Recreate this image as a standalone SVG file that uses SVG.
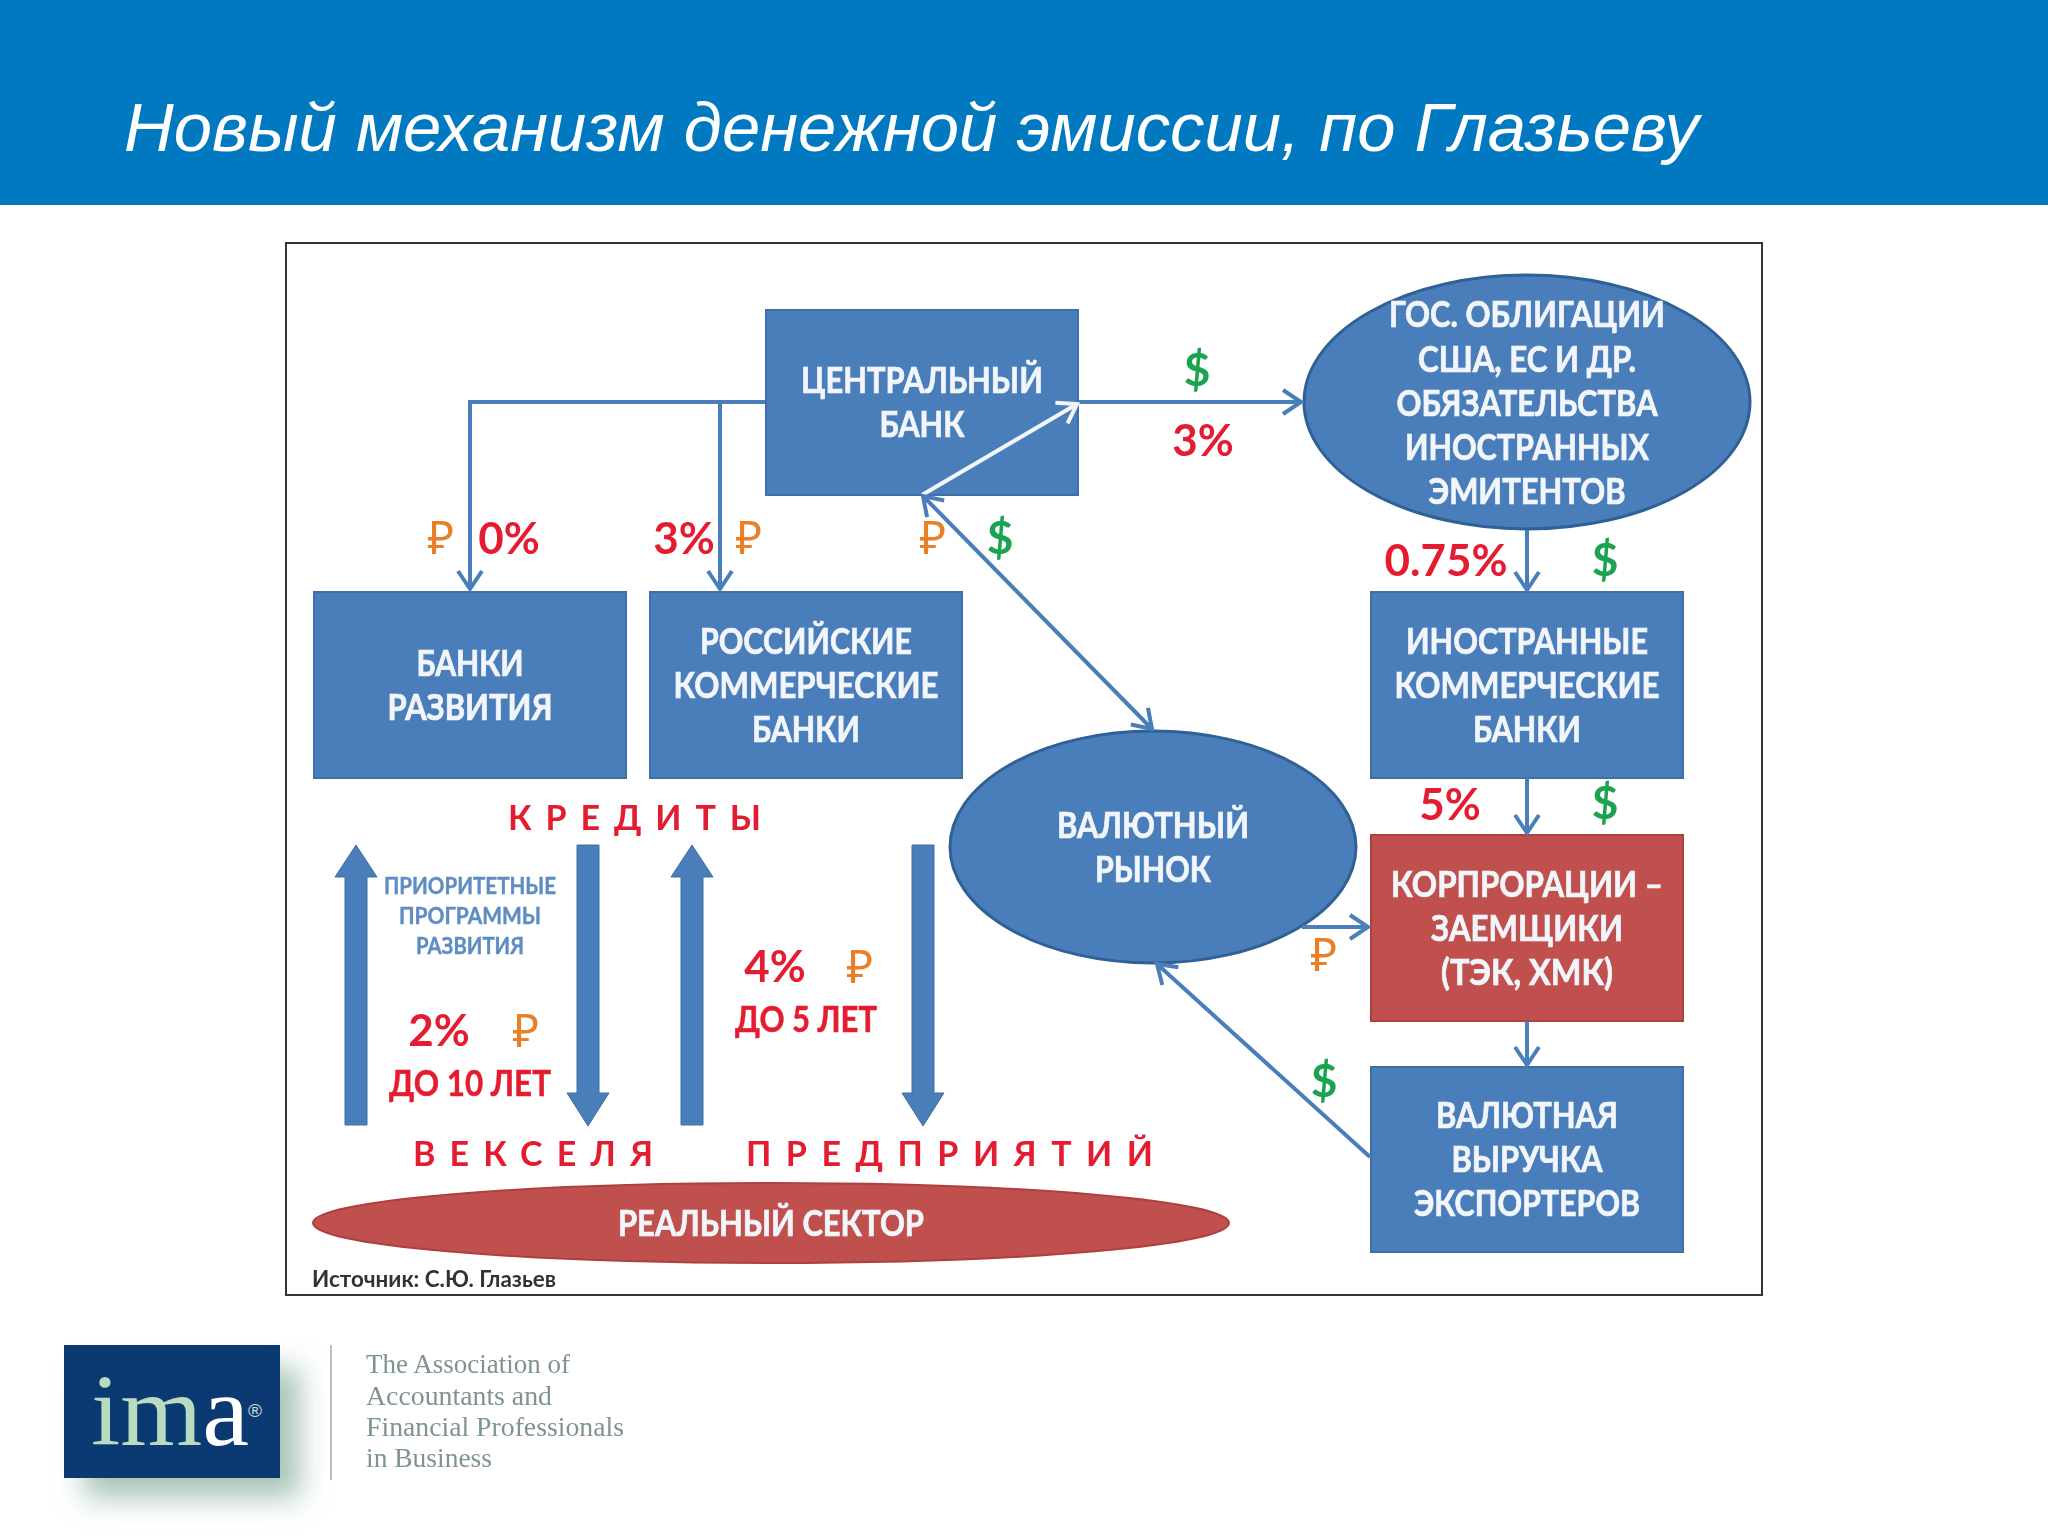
<svg xmlns="http://www.w3.org/2000/svg" width="2048" height="1536" viewBox="0 0 2048 1536">
<style>
.box{fill:#4a7ebb;stroke:#3f6fa6;stroke-width:2}
.ell{fill:#4a7ebb;stroke:#2f6096;stroke-width:3}
.red{fill:#c0504d;stroke:#ae403d;stroke-width:2}
.t{font-family:Lato,"Noto Sans",sans-serif;font-weight:700;font-size:36px;fill:#f2f6fb;stroke:#f2f6fb;stroke-width:.7px;text-anchor:middle;filter:url(#soft)}
.p{font-family:Lato,"Noto Sans",sans-serif;font-weight:700;font-size:44px;fill:#e41e30;text-anchor:middle;filter:url(#soft)}
.r{font-family:"Noto Sans","DejaVu Sans",sans-serif;font-weight:400;font-size:46px;fill:#e8802a;text-anchor:middle;filter:url(#soft)}
.d{font-family:Lato,"Noto Sans",sans-serif;font-weight:700;font-size:46px;fill:#1aa34f;text-anchor:middle;filter:url(#soft)}
.s{font-family:Lato,"Noto Sans",sans-serif;font-weight:700;font-size:36px;fill:#e41e30;stroke:#e41e30;stroke-width:.5px;text-anchor:middle;filter:url(#soft)}
.sp{font-family:Lato,"Noto Sans",sans-serif;font-weight:700;font-size:34px;fill:#e41e30;filter:url(#soft)}
.b{font-family:Lato,"Noto Sans",sans-serif;font-weight:700;font-size:23px;fill:#5f8cc2;stroke:#5f8cc2;stroke-width:.4px;text-anchor:middle;filter:url(#soft)}
.l{font-family:"Liberation Serif",serif;font-size:27px;fill:#7f9490;filter:url(#soft)}
.c{fill:none;stroke:#4a7ebb;stroke-width:4}
.ba{fill:#4a7ebb;stroke:#3f6fa6;stroke-width:1}
</style>
<defs>
<marker id="ah" markerUnits="userSpaceOnUse" markerWidth="26" markerHeight="30" refX="22" refY="15" orient="auto-start-reverse"><path d="M4 3L22 15L4 27" fill="none" stroke="#4a7ebb" stroke-width="4"/></marker>
<marker id="aw" markerUnits="userSpaceOnUse" markerWidth="26" markerHeight="30" refX="22" refY="15" orient="auto"><path d="M4 3L22 15L4 27" fill="none" stroke="#f2f6fb" stroke-width="4"/></marker>
<filter id="sh" x="-30%" y="-30%" width="160%" height="160%"><feGaussianBlur stdDeviation="14"/></filter>
<filter id="soft" x="-5%" y="-20%" width="110%" height="140%"><feGaussianBlur stdDeviation="0.7"/></filter>
</defs>
<rect width="2048" height="1536" fill="#fff"/>
<g id="header"><rect width="2048" height="205" fill="#0079c1"/>
<text x="124" y="151" font-family="Liberation Sans,Arial,sans-serif" font-style="italic" font-size="68" fill="#fff" textLength="1575" lengthAdjust="spacingAndGlyphs">Новый механизм денежной эмиссии, по Глазьеву</text></g>
<rect id="frame" x="286" y="243" width="1476" height="1052" fill="#fff" stroke="#333" stroke-width="2"/>
<g id="central-bank"><rect class="box" x="766" y="310" width="312" height="185"/><text class="t" lengthAdjust="spacingAndGlyphs" textLength="242" x="922" y="393">ЦЕНТРАЛЬНЫЙ</text><text class="t" lengthAdjust="spacingAndGlyphs" textLength="85" x="922" y="437">БАНК</text></g>
<g id="gov-bonds"><ellipse class="ell" cx="1527" cy="402" rx="223" ry="127"/><text class="t" lengthAdjust="spacingAndGlyphs" textLength="276" x="1527" y="327">ГОС. ОБЛИГАЦИИ</text><text class="t" lengthAdjust="spacingAndGlyphs" textLength="218" x="1527" y="372">США, ЕС И ДР.</text><text class="t" lengthAdjust="spacingAndGlyphs" textLength="261" x="1527" y="416">ОБЯЗАТЕЛЬСТВА</text><text class="t" lengthAdjust="spacingAndGlyphs" textLength="244" x="1527" y="460">ИНОСТРАННЫХ</text><text class="t" lengthAdjust="spacingAndGlyphs" textLength="197" x="1527" y="504">ЭМИТЕНТОВ</text></g>
<g id="dev-banks"><rect class="box" x="314" y="592" width="312" height="186"/><text class="t" lengthAdjust="spacingAndGlyphs" textLength="107" x="470" y="676">БАНКИ</text><text class="t" lengthAdjust="spacingAndGlyphs" textLength="165" x="470" y="720">РАЗВИТИЯ</text></g>
<g id="ru-banks"><rect class="box" x="650" y="592" width="312" height="186"/><text class="t" lengthAdjust="spacingAndGlyphs" textLength="212" x="806" y="654">РОССИЙСКИЕ</text><text class="t" lengthAdjust="spacingAndGlyphs" textLength="265" x="806" y="698">КОММЕРЧЕСКИЕ</text><text class="t" lengthAdjust="spacingAndGlyphs" textLength="108" x="806" y="742">БАНКИ</text></g>
<g id="foreign-banks"><rect class="box" x="1371" y="592" width="312" height="186"/><text class="t" lengthAdjust="spacingAndGlyphs" textLength="242" x="1527" y="654">ИНОСТРАННЫЕ</text><text class="t" lengthAdjust="spacingAndGlyphs" textLength="265" x="1527" y="698">КОММЕРЧЕСКИЕ</text><text class="t" lengthAdjust="spacingAndGlyphs" textLength="108" x="1527" y="742">БАНКИ</text></g>
<g id="fx-market"><ellipse class="ell" cx="1153" cy="847" rx="203" ry="116"/><text class="t" lengthAdjust="spacingAndGlyphs" textLength="192" x="1153" y="838">ВАЛЮТНЫЙ</text><text class="t" lengthAdjust="spacingAndGlyphs" textLength="116" x="1153" y="882">РЫНОК</text></g>
<g id="corporations"><rect class="red" x="1371" y="835" width="312" height="186"/><text class="t" lengthAdjust="spacingAndGlyphs" textLength="272" x="1527" y="897">КОРПРОРАЦИИ –</text><text class="t" lengthAdjust="spacingAndGlyphs" textLength="192" x="1527" y="941">ЗАЕМЩИКИ</text><text class="t" lengthAdjust="spacingAndGlyphs" textLength="172" x="1527" y="985">(ТЭК, ХМК)</text></g>
<g id="fx-revenue"><rect class="box" x="1371" y="1067" width="312" height="185"/><text class="t" lengthAdjust="spacingAndGlyphs" textLength="182" x="1527" y="1128">ВАЛЮТНАЯ</text><text class="t" lengthAdjust="spacingAndGlyphs" textLength="151" x="1527" y="1172">ВЫРУЧКА</text><text class="t" lengthAdjust="spacingAndGlyphs" textLength="226" x="1527" y="1216">ЭКСПОРТЕРОВ</text></g>
<g id="real-sector"><ellipse class="red" cx="771" cy="1223" rx="458" ry="40"/><text class="t" lengthAdjust="spacingAndGlyphs" textLength="306" x="771" y="1236">РЕАЛЬНЫЙ СЕКТОР</text></g>
<g id="connectors">
<path class="c" d="M765 402H470V589" marker-end="url(#ah)"/>
<path class="c" d="M720 402V589" marker-end="url(#ah)"/>
<path class="c" d="M1079 402H1301" marker-end="url(#ah)"/>
<path d="M922 495L1077 404" fill="none" stroke="#f2f6fb" stroke-width="4" marker-end="url(#aw)"/>
<path class="c" d="M923 496L1152 729" marker-start="url(#ah)" marker-end="url(#ah)"/>
<path class="c" d="M1527 530V590" marker-end="url(#ah)"/>
<path class="c" d="M1527 778V833" marker-end="url(#ah)"/>
<path class="c" d="M1527 1021V1065" marker-end="url(#ah)"/>
<path class="c" d="M1302 927H1368" marker-end="url(#ah)"/>
<path class="c" d="M1370 1157L1157 964" marker-end="url(#ah)"/>
<path id="up1" class="ba" d="M356 845L377 877H367V1125H345V877H335Z"/>
<path id="down1" class="ba" d="M577 845H599V1093H609L588 1126L567 1093H577Z"/>
<path id="up2" class="ba" d="M692 845L713 877H703V1125H681V877H671Z"/>
<path id="down2" class="ba" d="M912 845H934V1093H944L923 1126L902 1093H912Z"/>
</g>
<g id="labels">
<text class="r" x="441" y="554">₽</text><text class="p" x="509" y="554">0%</text>
<text class="p" x="684" y="554">3%</text><text class="r" x="749" y="554">₽</text>
<text class="r" x="933" y="554">₽</text><text class="d" x="1000" y="554">$</text>
<text class="d" x="1197" y="386">$</text><text class="p" x="1203" y="456">3%</text>
<text class="p" x="1446" y="576">0.75%</text><text class="d" x="1605" y="576">$</text>
<text class="p" x="1450" y="820">5%</text><text class="d" x="1605" y="819">$</text>
<text class="r" x="1324" y="971">₽</text><text class="d" x="1324" y="1097">$</text>
<text class="sp" x="508" y="830" textLength="253">КРЕДИТЫ</text>
<text class="b" lengthAdjust="spacingAndGlyphs" textLength="172" x="470" y="894">ПРИОРИТЕТНЫЕ</text><text class="b" lengthAdjust="spacingAndGlyphs" textLength="142" x="470" y="924">ПРОГРАММЫ</text><text class="b" lengthAdjust="spacingAndGlyphs" textLength="108" x="470" y="954">РАЗВИТИЯ</text>
<text class="p" x="439" y="1046">2%</text><text class="r" x="526" y="1047">₽</text><text class="s" lengthAdjust="spacingAndGlyphs" textLength="162" x="470" y="1096">ДО 10 ЛЕТ</text>
<text class="p" x="775" y="982">4%</text><text class="r" x="860" y="983">₽</text><text class="s" lengthAdjust="spacingAndGlyphs" textLength="142" x="806" y="1032">ДО 5 ЛЕТ</text>
<text class="sp" x="413" y="1166" textLength="240">ВЕКСЕЛЯ</text><text class="sp" x="746" y="1166" textLength="407">ПРЕДПРИЯТИЙ</text>
<text x="312" y="1287" font-family="Lato,Noto Sans,sans-serif" font-weight="700" font-size="23" fill="#333" textLength="244" lengthAdjust="spacingAndGlyphs" filter="url(#soft)">Источник: С.Ю. Глазьев</text>
</g>
<g id="logo">
<rect x="84" y="1368" width="216" height="130" fill="#a9c4b8" filter="url(#sh)"/>
<rect x="64" y="1345" width="216" height="133" fill="#0b3a72"/>
<text x="91" y="1445" font-family="Liberation Serif,serif" font-size="102" fill="#b9dcc0" textLength="158" lengthAdjust="spacingAndGlyphs" filter="url(#soft)">im<tspan fill="#fff">a</tspan></text>
<text x="248" y="1417" font-family="Liberation Sans,sans-serif" font-size="19" fill="#cfe0dc">®</text>
<path d="M331 1345V1480" stroke="#b9c4c0" stroke-width="2"/>
<text class="l" x="366" y="1373" textLength="204" lengthAdjust="spacingAndGlyphs">The Association of</text><text class="l" x="366" y="1405" textLength="186" lengthAdjust="spacingAndGlyphs">Accountants and</text><text class="l" x="366" y="1436" textLength="258" lengthAdjust="spacingAndGlyphs">Financial Professionals</text><text class="l" x="366" y="1467" textLength="126" lengthAdjust="spacingAndGlyphs">in Business</text>
</g>
</svg>
